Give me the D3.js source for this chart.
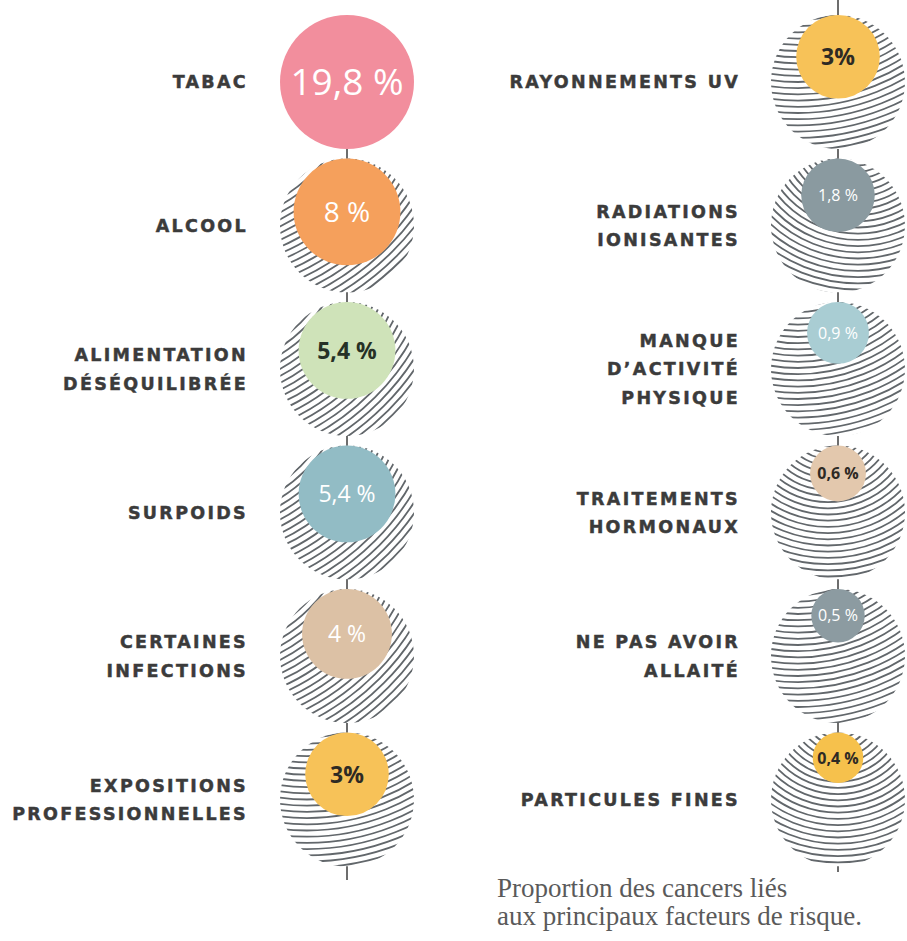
<!DOCTYPE html>
<html>
<head>
<meta charset="utf-8">
<script src="https://cdn.jsdelivr.net/npm/d3@7"></script>
<style>
  body { margin: 0; background: #fff; }
  .label { font-family: "DejaVu Sans", sans-serif; font-weight: 700; font-size: 17.5px; letter-spacing: 2.3px; fill: #3b3b3b; stroke: #3b3b3b; stroke-width: 0.45px; }
  .pct { font-family: "Open Sans", sans-serif; }
  .caption { font-family: "Liberation Serif", serif; font-size: 27px; fill: #5a5a5a; }
</style>
</head>
<body>
<svg id="chart" width="907" height="941"></svg>
<script>
// left column: factors, share of cancers (%)
const leftFactors = [
  ["TABAC"],
  ["ALCOOL"],
  ["ALIMENTATION", "DÉSÉQUILIBRÉE"],
  ["SURPOIDS"],
  ["CERTAINES", "INFECTIONS"],
  ["EXPOSITIONS", "PROFESSIONNELLES"],
];
const leftValues = [19.8, 8, 5.4, 5.4, 4, 3];
const leftLabels = ["19,8 %", "8 %", "5,4 %", "5,4 %", "4 %", "3%"];

// right column
const rightFactors = [
  ["RAYONNEMENTS UV"],
  ["RADIATIONS", "IONISANTES"],
  ["MANQUE", "D’ACTIVITÉ", "PHYSIQUE"],
  ["TRAITEMENTS", "HORMONAUX"],
  ["NE PAS AVOIR", "ALLAITÉ"],
  ["PARTICULES FINES"],
];
const rightValues = [3, 1.8, 0.9, 0.6, 0.5, 0.4];
const rightLabels = ["3%", "1,8 %", "0,9 %", "0,6 %", "0,5 %", "0,4 %"];

const caption = ["Proportion des cancers liés", "aux principaux facteurs de risque."];

// colours
const leftColors = ["#f28e9d", "#f5a05c", "#cfe3b9", "#92bcc5", "#dcc1a5", "#f7c258"];
const rightColors = ["#f7c258", "#8a9aa0", "#a9cdd3", "#e3c8ad", "#8c9ba1", "#f6c14c"];
const leftText = ["#fff", "#fff", "#263126", "#fff", "#fff", "#2e2a24"];
const rightText = ["#2e2a24", "#fff", "#fff", "#2e2a24", "#fff", "#2e2a24"];

const svg = d3.select("#chart");
const R = 67; // full disc = hatched circle

const colX = d3.scalePoint().domain(["left", "right"]).range([347, 838]);
const rowY = d3.scalePoint().domain(d3.range(6)).range([82, 799.5]);
const rScale = d3.scalePow().exponent(0.25).domain([0, 19.8]).range([0, R]);

// centre of the ripple lines, relative to each hatched disc
const rippleLeft = [[0, 0], [-150, -170], [-150, -150], [-150, -150], [-150, -160], [-40, -190]];
const rippleRight = [[-40, -190], [20, -95], [-40, -160], [-10, -95], [-40, -170], [0, -90]];

// vertical lines
svg.append("line")
  .attr("x1", colX("left")).attr("x2", colX("left"))
  .attr("y1", rowY(0)).attr("y2", 880)
  .attr("stroke", "#3c3c3c").attr("stroke-width", 1.5);
svg.append("line")
  .attr("x1", colX("right")).attr("x2", colX("right"))
  .attr("y1", 0).attr("y2", 872)
  .attr("stroke", "#3c3c3c").attr("stroke-width", 1.5);

const defs = svg.append("defs");

function drawColumn(side, factors, values, labels, colors, textColors, ripple) {
  const cx = colX(side);
  const g = svg.append("g");

  values.forEach((v, i) => {
    const cy = rowY(i);
    const r = rScale(v);
    const id = `clip-${side}-${i}`;

    if (r < R - 0.5) {
      defs.append("clipPath").attr("id", id)
        .append("circle").attr("cx", cx).attr("cy", cy).attr("r", R);
      const hatch = g.append("g").attr("clip-path", `url(#${id})`);
      hatch.append("circle").attr("cx", cx).attr("cy", cy).attr("r", R).attr("fill", "#fff");
      const px = cx + ripple[i][0];
      const py = cy + ripple[i][1];
      hatch.selectAll("circle.ring")
        .data(d3.range(4, 420, 6.2))
        .enter()
        .append("circle")
        .attr("class", "ring")
        .attr("cx", px)
        .attr("cy", py)
        .attr("r", (d) => d)
        .attr("fill", "none")
        .attr("stroke", "#62676b")
        .attr("stroke-width", 1.8);
    }

    const ccy = cy - (R - r);
    g.append("circle")
      .attr("cx", cx)
      .attr("cy", ccy)
      .attr("r", r)
      .attr("fill", colors[i]);

    const fs = v > 15 ? 37 : v > 6 ? 28 : v >= 3 ? 23 : 16;
    g.append("text")
      .attr("class", "pct")
      .attr("x", cx)
      .attr("y", ccy)
      .attr("dy", "0.36em")
      .attr("text-anchor", "middle")
      .attr("font-size", fs)
      .attr("font-weight", textColors[i] === "#fff" ? 400 : 700)
      .attr("fill", textColors[i])
      .text(labels[i]);

    // factor name
    const lines = factors[i];
    const lh = 28.5;
    const labelX = side === "left" ? 248 : 740;
    const t = g.append("text")
      .attr("class", "label")
      .attr("text-anchor", "end")
      .attr("x", labelX)
      .attr("y", cy - ((lines.length - 1) * lh) / 2)
      .attr("dy", "0.36em");
    lines.forEach((line, k) => {
      t.append("tspan")
        .attr("x", labelX)
        .attr("dy", k === 0 ? "0.36em" : lh)
        .text(line);
    });
  });
}

drawColumn("left", leftFactors, leftValues, leftLabels, leftColors, leftText, rippleLeft);
drawColumn("right", rightFactors, rightValues, rightLabels, rightColors, rightText, rippleRight);

svg.append("text")
  .attr("class", "caption")
  .selectAll("tspan")
  .data(caption)
  .enter()
  .append("tspan")
  .attr("x", 497)
  .attr("y", (d, i) => 897 + i * 28)
  .text((d) => d);
</script>
</body>
</html>
